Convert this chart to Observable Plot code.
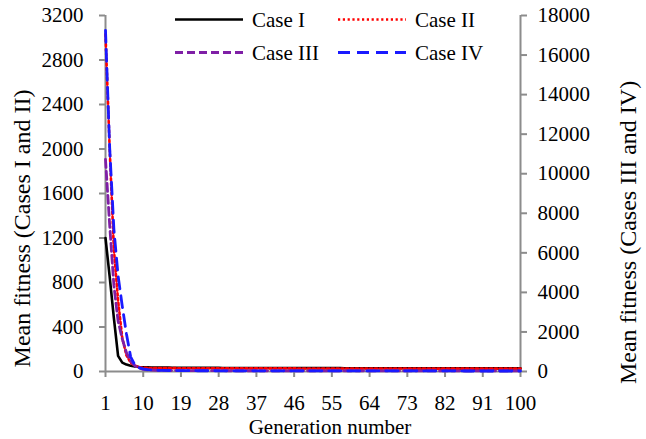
<!DOCTYPE html>
<html><head><meta charset="utf-8">
<script src="https://cdn.jsdelivr.net/npm/d3@7"></script>
<script src="https://cdn.jsdelivr.net/npm/@observablehq/plot@0.6"></script>
<style>
html,body{margin:0;padding:0;background:#fff;}
#wrap{position:relative;width:646px;height:439px;font-family:"Liberation Serif","Times New Roman",serif;}
#wrap svg{overflow:visible;}
#wrap svg text{font-family:"Liberation Serif","Times New Roman",serif !important;}
#legend{position:absolute;left:0;top:0;pointer-events:none;}
</style></head><body><div id="wrap"></div>
<script>
// ---- data ----
const generations = [
  1,2,3,4,5,6,7,8,9,10,11,12,13,14,15,16,17,18,19,20,
  21,22,23,24,25,26,27,28,29,30,31,32,33,34,35,36,37,38,39,40,
  41,42,43,44,45,46,47,48,49,50,51,52,53,54,55,56,57,58,59,60,
  61,62,63,64,65,66,67,68,69,70,71,72,73,74,75,76,77,78,79,80,
  81,82,83,84,85,86,87,88,89,90,91,92,93,94,95,96,97,98,99,100];
const xTickLabels = [1,10,19,28,37,46,55,64,73,82,91,100];
const leftTicks = [0,400,800,1200,1600,2000,2400,2800,3200];
const rightTicks = [0,2000,4000,6000,8000,10000,12000,14000,16000,18000];
const seriesNames = ["Case I","Case II","Case III","Case IV"];

// Case I & II : left axis
const caseI = [1200,850,480,140,80,62,52,46,41,38, 37,36,36,35,35,35,34,34,34,34,
  34,33,33,33,33,33,33,33,32,32, 32,32,32,32,32,32,31,31,31,31,
  31,31,31,31,30,30,30,30,30,30, 30,30,30,30,30,30,30,29,29,29,
  29,29,29,29,29,29,29,29,29,29, 29,29,29,28,28,28,28,28,28,28,
  28,28,28,28,28,28,28,28,28,28, 28,28,28,28,28,28,28,28,28,28];
const caseII = [3030,2000,1100,640,300,145,80,52,40,34, 32,31,31,30,30,30,30,30,29,29,
  29,29,29,29,29,29,29,29,28,28, 28,28,28,28,28,28,28,28,28,28,
  28,28,28,28,28,28,27,27,27,27, 27,27,27,27,27,27,27,27,27,27,
  27,27,27,27,27,27,27,27,27,27, 27,27,27,27,27,27,26,26,26,26,
  26,26,26,26,26,26,26,26,26,26, 26,26,26,26,26,26,26,26,26,26];
// Case III & IV : right axis
const caseIII = [10720,7400,4350,2560,1650,950,530,290,180,110, 85,70,62,58,55,52,50,48,47,46,
  45,44,43,42,42,41,41,40,40,39, 39,38,38,38,37,37,37,36,36,36,
  36,35,35,35,35,34,34,34,34,34, 33,33,33,33,33,33,32,32,32,32,
  32,32,32,31,31,31,31,31,31,31, 31,30,30,30,30,30,30,30,30,30,
  30,30,29,29,29,29,29,29,29,29, 29,29,29,29,29,29,29,29,29,29];
const caseIV = [17250,11300,7200,4850,3300,1900,740,330,200,130, 95,75,65,58,54,50,48,46,44,42,
  41,40,39,38,38,37,37,36,36,35, 35,35,34,34,34,33,33,33,33,32,
  32,32,32,32,31,31,31,31,31,30, 30,30,30,30,30,30,29,29,29,29,
  29,29,29,29,28,28,28,28,28,28, 28,28,28,28,27,27,27,27,27,27,
  27,27,27,27,27,27,26,26,26,26, 26,26,26,26,26,26,26,26,26,26];

// ---- build ----
const k = 3200 / 18000; // right-axis value -> left-axis units
const rowsOf = (vals, scale) => vals.map((v, i) => ({gen: generations[i], y: v * scale}));
const dI = rowsOf(caseI, 1), dII = rowsOf(caseII, 1), dIII = rowsOf(caseIII, k), dIV = rowsOf(caseIV, k);

const styles = [
  {stroke: "#000000", strokeWidth: 2.6, strokeDasharray: null},
  {stroke: "#ff0000", strokeWidth: 2.6, strokeDasharray: "2.2,2.6"},
  {stroke: "#7f1fa6", strokeWidth: 2.8, strokeDasharray: "8,4"},
  {stroke: "#1a1aff", strokeWidth: 2.8, strokeDasharray: "12,7"}
];
const axisGray = "#8c8c8c";
const font = '"Liberation Serif","Times New Roman",serif';

const chart = Plot.plot({
  width: 646, height: 439,
  marginLeft: 105, marginRight: 126, marginTop: 15, marginBottom: 68,
  style: {fontFamily: font, fontSize: "21px", background: "white", color: "black", overflow: "visible"},
  x: {domain: [1, 100]},
  y: {domain: [0, 3200]},
  marks: [
    Plot.axisX({ticks: xTickLabels, tickSize: 6, tickPadding: 18, stroke: axisGray, strokeWidth: 2, fill: "black", label: null, fontFamily: font, fontSize: 21, tickFormat: d => String(d)}),
    Plot.axisY({anchor: "left", ticks: leftTicks, tickSize: 6, tickPadding: 16, stroke: axisGray, strokeWidth: 2, fill: "black", label: null, fontFamily: font, fontSize: 21, tickFormat: d => String(d)}),
    Plot.axisY({anchor: "right", ticks: rightTicks.map(v => v * k), tickSize: 6, tickPadding: 11, stroke: axisGray, strokeWidth: 2, fill: "black", label: null, fontFamily: font, fontSize: 21, tickFormat: d => String(Math.round(d / k))}),
    Plot.ruleY([0], {stroke: axisGray, strokeWidth: 2}),
    Plot.ruleX([1], {stroke: axisGray, strokeWidth: 2}),
    Plot.ruleX([100], {stroke: axisGray, strokeWidth: 2}),
    Plot.line(dI, {x: "gen", y: "y", ...styles[0]}),
    Plot.line(dII, {x: "gen", y: "y", ...styles[1]}),
    Plot.line(dIII, {x: "gen", y: "y", ...styles[2]}),
    Plot.line(dIV, {x: "gen", y: "y", ...styles[3]}),
    Plot.text(["Mean fitness (Cases I and II)"], {frameAnchor: "left", textAnchor: "middle", lineAnchor: "middle", rotate: -90, dx: -83, dy: 35, fontSize: 24, fontFamily: font, fill: "black"}),
    Plot.text(["Mean fitness (Cases III and IV)"], {frameAnchor: "right", textAnchor: "middle", lineAnchor: "middle", rotate: -90, dx: 108, dy: 39, fontSize: 24, fontFamily: font, fill: "black"}),
    Plot.text(["Generation number"], {frameAnchor: "bottom", textAnchor: "middle", lineAnchor: "middle", dx: 17, dy: 56, fontSize: 21, fontFamily: font, fill: "black"})
  ]
});

const wrap = document.getElementById("wrap");
wrap.appendChild(chart);

// ---- legend (overlay) ----
const legendPos = [
  {x: 175, y: 19.5}, {x: 338, y: 19.5}, {x: 175, y: 52.5}, {x: 338, y: 52.5}
];
const lg = d3.select(wrap).append("svg").attr("id", "legend").attr("width", 646).attr("height", 439);
seriesNames.forEach((name, i) => {
  const p = legendPos[i], s = styles[i];
  const ln = lg.append("line").attr("x1", p.x).attr("x2", p.x + 68).attr("y1", p.y).attr("y2", p.y)
    .attr("stroke", s.stroke).attr("stroke-width", s.strokeWidth);
  if (s.strokeDasharray) ln.attr("stroke-dasharray", s.strokeDasharray);
  lg.append("text").attr("x", p.x + 77).attr("y", p.y).attr("dy", "0.35em")
    .attr("font-family", font).attr("font-size", 21).attr("fill", "black").text(name);
});
</script>
</body></html>
